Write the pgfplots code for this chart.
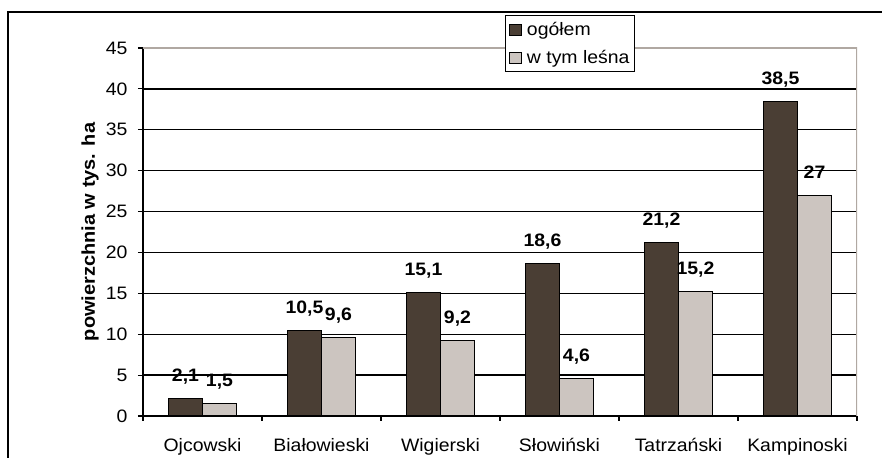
\documentclass[border=0pt]{standalone}
\usepackage{fontspec}
\setmainfont{Liberation Sans}[FakeStretch=1.08]
\usepackage{pgfplots}
\pgfplotsset{compat=1.18}
\usetikzlibrary{calc}
\definecolor{darkbar}{HTML}{4A3E34}
\definecolor{lightbar}{HTML}{CCC5C0}
\definecolor{frameg}{HTML}{B0A8A2}
\begin{document}
\begin{tikzpicture}[x=1bp,y=1bp]
\begin{axis}[
  scale only axis, width=714bp, height=368bp,
  ybar=0pt, bar width=34bp,
  xmin=-0.5, xmax=5.5, ymin=0, ymax=45,
  ytick={0,5,...,45},
  xtick={-0.5,0.5,...,5.5},
  x tick label as interval,
  xticklabels={Ojcowski, Białowieski, Wigierski, Słowiński, Tatrzański, Kampinoski},
  axis x line*=bottom, axis y line*=left,
  axis line style={black, line width=1.2bp},
  tick align=outside, major tick length=5bp,
  tick style={black, line width=1.2bp},
  ymajorgrids, grid style={black, line width=1.4bp},
  /pgf/number format/.cd, use comma, fixed, precision=1, assume math mode=true,
  /pgfplots/.cd,
  tick label style={font=\fontsize{18bp}{21bp}\selectfont},
  xticklabel style={yshift=-14bp},
  yticklabel style={xshift=-7bp},
  ylabel={powierzchnia w tys. ha},
  ylabel style={font=\fontsize{18.5bp}{21bp}\selectfont\bfseries, at={(axis description cs:-0.074,0.5)}, anchor=center},
  nodes near coords,
  every node near coord/.append style={font=\fontsize{18bp}{21bp}\selectfont\bfseries, anchor=base, yshift=17bp},
  legend style={at={(axis description cs:0.507,1.0897)}, anchor=north west, draw=black, line width=1bp, fill=white,
    font=\fontsize{18bp}{21bp}\selectfont, row sep=9bp, inner xsep=3bp, inner ysep=5bp},
  legend cell align=left,
  legend image code/.code={\draw[#1, line width=0.9bp] (0bp,-5.5bp) rectangle (12bp,5.5bp); \path[draw=none, fill=none] (0bp,0bp) rectangle (16bp,0.1bp);},
]
\addplot[fill=darkbar, draw=black, line width=1.1bp] coordinates {(0,2.1) (1,10.5) (2,15.1) (3,18.6) (4,21.2) (5,38.5)};
\addplot[fill=lightbar, draw=black, line width=1.1bp] coordinates {(0,1.5) (1,9.6) (2,9.2) (3,4.6) (4,15.2) (5,27)};
\draw[frameg, line width=1.3bp] (rel axis cs:0,1) -- (rel axis cs:1,1) -- (rel axis cs:1,0);
\coordinate (SW) at (rel axis cs:0,0);
\legend{ogółem, w tym leśna\hspace{4bp}}
\end{axis}
\pgfresetboundingbox
\path[use as bounding box] ($(SW)+(-143,-42)$) rectangle ++(882,458);
\draw[line width=1.4bp] ($(SW)+(-135,-50)$) -- ($(SW)+(-135,404)$) -- ($(SW)+(750,404)$);
\end{tikzpicture}
\end{document}
